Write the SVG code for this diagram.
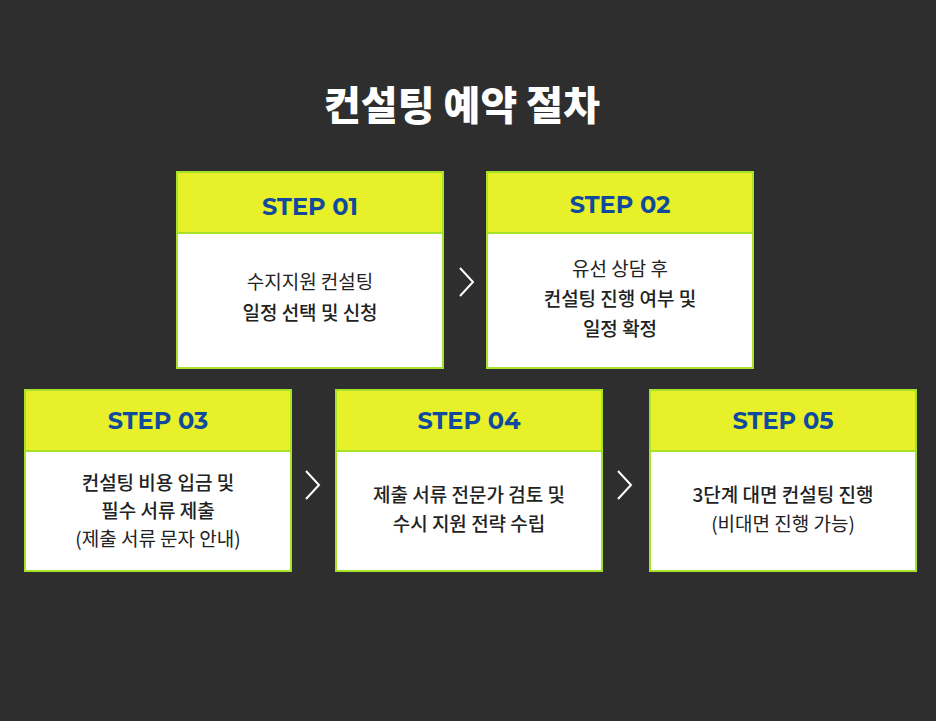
<svg xmlns="http://www.w3.org/2000/svg" width="936" height="721" viewBox="0 0 936 721">
<style>
.box{fill:#fff;stroke:#a6e22a;stroke-width:2}
.hd{fill:#e8f02a;stroke:#a6e22a;stroke-width:2}
.st{font-family:"Montserrat","Noto Sans","Liberation Sans",sans-serif;font-weight:700;font-size:24px;fill:#0f4a9c;text-anchor:middle}
.t{font-family:"Noto Sans CJK KR",sans-serif;font-size:19px;fill:#222;text-anchor:middle}
.b{font-weight:500}
.arr{fill:none;stroke:#fff;stroke-width:2}
</style>
<rect width="936" height="721" fill="#2e2e2e"/>
<text x="462" y="120" text-anchor="middle" font-family="Noto Sans CJK KR,sans-serif" font-weight="900" font-size="40" fill="#fff">컨설팅 예약 절차</text>
<g id="step1"><rect class="box" x="177" y="172" width="266" height="196"/><rect class="hd" x="177" y="172" width="266" height="61"/><text class="st" x="310" y="215">STEP 01</text><text class="t" x="310" y="289">수지지원 컨설팅</text><text class="t b" x="310" y="320">일정 선택 및 신청</text></g>
<g id="step2"><rect class="box" x="487" y="172" width="266" height="196"/><rect class="hd" x="487" y="172" width="266" height="61"/><text class="st" x="620" y="213">STEP 02</text><text class="t" x="620" y="276">유선 상담 후</text><text class="t b" x="620" y="306">컨설팅 진행 여부 및</text><text class="t b" x="620" y="336">일정 확정</text></g>
<g id="step3"><rect class="box" x="25" y="390" width="266" height="181"/><rect class="hd" x="25" y="390" width="266" height="61"/><text class="st" x="158" y="429">STEP 03</text><text class="t b" x="158" y="490">컨설팅 비용 입금 및</text><text class="t b" x="158" y="518">필수 서류 제출</text><text class="t" x="158" y="546">(제출 서류 문자 안내)</text></g>
<g id="step4"><rect class="box" x="336" y="390" width="266" height="181"/><rect class="hd" x="336" y="390" width="266" height="61"/><text class="st" x="469" y="429">STEP 04</text><text class="t b" x="469" y="502">제출 서류 전문가 검토 및</text><text class="t b" x="469" y="531">수시 지원 전략 수립</text></g>
<g id="step5"><rect class="box" x="650" y="390" width="266" height="181"/><rect class="hd" x="650" y="390" width="266" height="61"/><text class="st" x="783" y="429">STEP 05</text><text class="t b" x="783" y="502">3단계 대면 컨설팅 진행</text><text class="t" x="783" y="531">(비대면 진행 가능)</text></g>
<g id="connectors"><path class="arr" d="M460 268L473 282L460 296"/><path class="arr" d="M306 471L319 485L306 499"/><path class="arr" d="M618 471L631 485L618 499"/></g>
</svg>
